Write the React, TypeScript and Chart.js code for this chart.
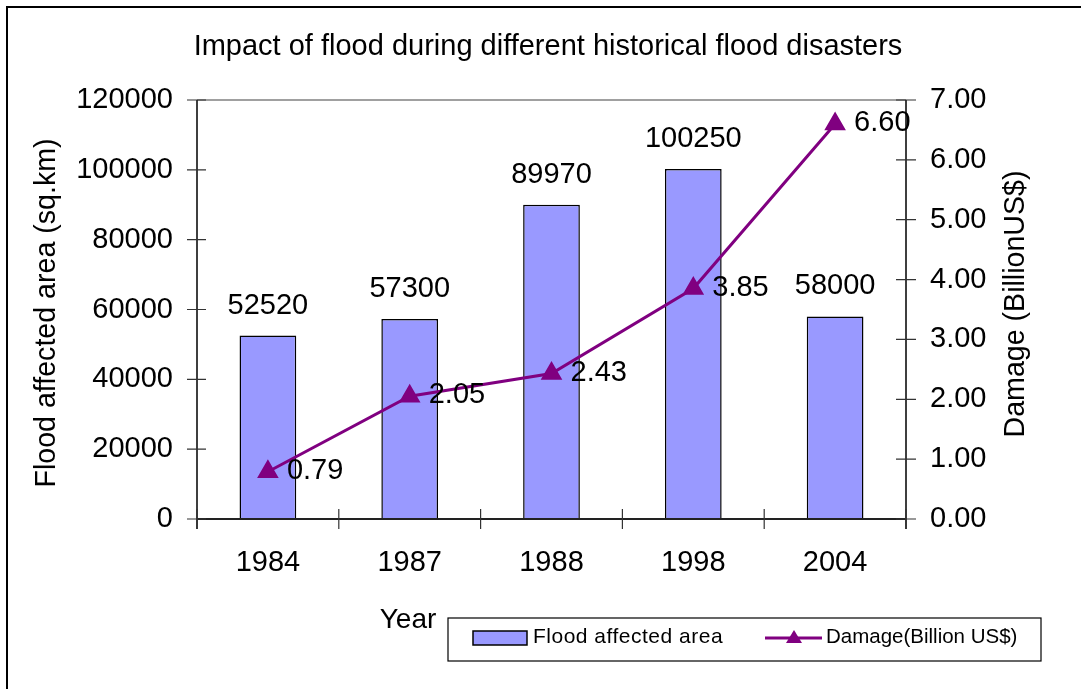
import React, { useEffect, useRef } from "react";
import { Chart, registerables } from "chart.js";

Chart.register(...registerables);

// Flood events and their impact
const years = ["1984", "1987", "1988", "1998", "2004"];
const affectedArea = [52520, 57300, 89970, 100250, 58000]; // sq.km
const damage = [0.79, 2.05, 2.43, 3.85, 6.6]; // billion US$

const areaMax = 120000;
const areaStep = 20000;
const damageMax = 7;
const damageStep = 1;

const titleText = "Impact of flood during different historical flood disasters";
const leftAxisTitle = "Flood affected area (sq.km)";
const rightAxisTitle = "Damage (BillionUS$)";
const xAxisTitle = "Year";
const legendArea = "Flood affected area";
const legendDamage = "Damage(Billion US$)";

const FONT = '"Liberation Sans", Arial, Helvetica, sans-serif';
const BAR_FILL = "#9999FF";
const LINE_COLOR = "#800080";

const W = 1081;
const H = 689;

const decorations = {
  id: "excelDecorations",
  beforeDraw(chart: any) {
    const ctx = chart.ctx;
    ctx.save();
    ctx.fillStyle = "#fff";
    ctx.fillRect(0, 0, chart.width, chart.height);
    ctx.restore();
  },
  afterDatasetsDraw(chart: any) {
    const ctx = chart.ctx;
    const area = chart.chartArea;
    const x = chart.scales.x;
    const yL = chart.scales.y;
    const yR = chart.scales.y1;
    ctx.save();

    // plot area top border
    ctx.strokeStyle = "#808080";
    ctx.lineWidth = 1.5;
    ctx.beginPath();
    ctx.moveTo(area.left, area.top);
    ctx.lineTo(area.right, area.top);
    ctx.stroke();

    // axis lines
    ctx.strokeStyle = "#000";
    ctx.lineWidth = 1.5;
    ctx.beginPath();
    ctx.moveTo(area.left, area.top);
    ctx.lineTo(area.left, area.bottom + 10);
    ctx.moveTo(area.right, area.top);
    ctx.lineTo(area.right, area.bottom + 10);
    ctx.stroke();
    ctx.strokeStyle = "#222";
    ctx.lineWidth = 2;
    ctx.beginPath();
    ctx.moveTo(area.left, area.bottom);
    ctx.lineTo(area.right, area.bottom);
    ctx.stroke();

    // cross tick marks
    ctx.strokeStyle = "#333";
    ctx.lineWidth = 1.2;
    ctx.beginPath();
    yL.ticks.forEach((_t: any, i: number) => {
      const py = yL.getPixelForTick(i);
      ctx.moveTo(area.left - 10, py);
      ctx.lineTo(area.left + 9, py);
    });
    yR.ticks.forEach((_t: any, i: number) => {
      const py = yR.getPixelForTick(i);
      ctx.moveTo(area.right - 10, py);
      ctx.lineTo(area.right + 10, py);
    });
    const step = x.getPixelForTick(1) - x.getPixelForTick(0);
    for (let i = 0; i <= years.length; i++) {
      const px = x.getPixelForTick(0) - step / 2 + i * step;
      ctx.moveTo(px, area.bottom - 10);
      ctx.lineTo(px, area.bottom + 10);
    }
    ctx.stroke();

    // value labels
    ctx.fillStyle = "#000";
    ctx.font = `29px ${FONT}`;
    ctx.textBaseline = "middle";
    ctx.textAlign = "center";
    chart.getDatasetMeta(1).data.forEach((bar: any, i: number) => {
      ctx.fillText(String(affectedArea[i]), bar.x, bar.y - 30);
    });
    ctx.textAlign = "left";
    chart.getDatasetMeta(0).data.forEach((pt: any, i: number) => {
      ctx.fillText(damage[i].toFixed(2), pt.x + 19, pt.y - 1);
    });
    ctx.restore();
  },
  afterDraw(chart: any) {
    const ctx = chart.ctx;
    ctx.save();

    // outer frame
    ctx.strokeStyle = "#000";
    ctx.lineWidth = 2;
    ctx.beginPath();
    ctx.moveTo(7, H + 5);
    ctx.lineTo(7, 7);
    ctx.lineTo(W + 5, 7);
    ctx.stroke();

    ctx.fillStyle = "#000";
    ctx.textBaseline = "middle";

    // chart title
    ctx.font = `29px ${FONT}`;
    ctx.textAlign = "center";
    ctx.fillText(titleText, 548, 47);

    // axis titles
    ctx.font = `28.6px ${FONT}`;
    ctx.save();
    ctx.translate(47, 313);
    ctx.rotate(-Math.PI / 2);
    ctx.fillText(leftAxisTitle, 0, 0);
    ctx.restore();
    ctx.save();
    ctx.translate(1016, 304);
    ctx.rotate(-Math.PI / 2);
    ctx.fillText(rightAxisTitle, 0, 0);
    ctx.restore();

    ctx.font = `28px ${FONT}`;
    ctx.fillText(xAxisTitle, 408, 620);

    // legend box
    ctx.strokeStyle = "#000";
    ctx.lineWidth = 1.2;
    ctx.strokeRect(448, 618, 593, 43);
    ctx.fillStyle = BAR_FILL;
    ctx.fillRect(473, 631, 54, 14);
    ctx.strokeStyle = "#000";
    ctx.lineWidth = 1.5;
    ctx.strokeRect(473, 631, 54, 14);
    ctx.fillStyle = "#000";
    ctx.textAlign = "left";
    ctx.font = `21px ${FONT}`;
    (ctx as any).letterSpacing = "0.5px";
    ctx.fillText(legendArea, 533, 637);
    (ctx as any).letterSpacing = "0px";

    ctx.strokeStyle = LINE_COLOR;
    ctx.lineWidth = 3;
    ctx.beginPath();
    ctx.moveTo(765, 638);
    ctx.lineTo(822, 638);
    ctx.stroke();
    ctx.fillStyle = LINE_COLOR;
    ctx.beginPath();
    ctx.moveTo(794, 630);
    ctx.lineTo(802, 643);
    ctx.lineTo(786, 643);
    ctx.closePath();
    ctx.fill();
    ctx.fillStyle = "#000";
    ctx.font = `20.5px ${FONT}`;
    ctx.fillText(legendDamage, 826, 637);

    ctx.restore();
  },
};

export default function App() {
  const canvasRef = useRef<HTMLCanvasElement | null>(null);

  useEffect(() => {
    const canvas = canvasRef.current;
    if (!canvas) return;
    const tickFont = { family: FONT, size: 29 };
    const chart = new Chart(canvas, {
      data: {
        labels: years,
        datasets: [
          {
            type: "line",
            label: legendDamage,
            data: damage,
            yAxisID: "y1",
            borderColor: LINE_COLOR,
            backgroundColor: LINE_COLOR,
            borderWidth: 3,
            pointStyle: "triangle",
            pointRadius: 9.5,
            pointBackgroundColor: LINE_COLOR,
            pointBorderColor: LINE_COLOR,
            tension: 0,
            order: 0,
          },
          {
            type: "bar",
            label: legendArea,
            data: affectedArea,
            yAxisID: "y",
            backgroundColor: BAR_FILL,
            borderColor: "#000",
            borderWidth: 1.5,
            categoryPercentage: 1,
            barPercentage: 0.4,
            order: 1,
          },
        ],
      },
      options: {
        responsive: false,
        animation: false,
        layout: { padding: { top: 100, left: 0, right: 0, bottom: 0 } },
        plugins: {
          legend: { display: false },
          title: { display: false },
          tooltip: { enabled: false },
        },
        scales: {
          x: {
            type: "category",
            offset: true,
            grid: { display: false, drawTicks: false },
            border: { display: false },
            ticks: { font: tickFont, color: "#000", padding: 27, maxRotation: 0 },
            afterFit: (s: any) => {
              s.height = 170;
            },
          },
          y: {
            type: "linear",
            position: "left",
            min: 0,
            max: areaMax,
            grid: { display: false, drawTicks: false },
            border: { display: false },
            ticks: {
              stepSize: areaStep,
              font: tickFont,
              color: "#000",
              padding: 24,
              callback: (v: any) => String(v),
            },
            afterFit: (s: any) => {
              s.width = 197;
            },
          },
          y1: {
            type: "linear",
            position: "right",
            min: 0,
            max: damageMax,
            grid: { display: false, drawTicks: false },
            border: { display: false },
            ticks: {
              stepSize: damageStep,
              font: tickFont,
              color: "#000",
              padding: 24,
              callback: (v: any) => Number(v).toFixed(2),
            },
            afterFit: (s: any) => {
              s.width = W - 906;
            },
          },
        },
      } as any,
      plugins: [decorations],
    });
    return () => chart.destroy();
  }, []);

  return (
    <div style={{ position: "fixed", left: 0, top: 0, width: W, height: H, background: "#fff" }}>
      <canvas ref={canvasRef} width={W} height={H} style={{ display: "block", width: W, height: H }} />
    </div>
  );
}
